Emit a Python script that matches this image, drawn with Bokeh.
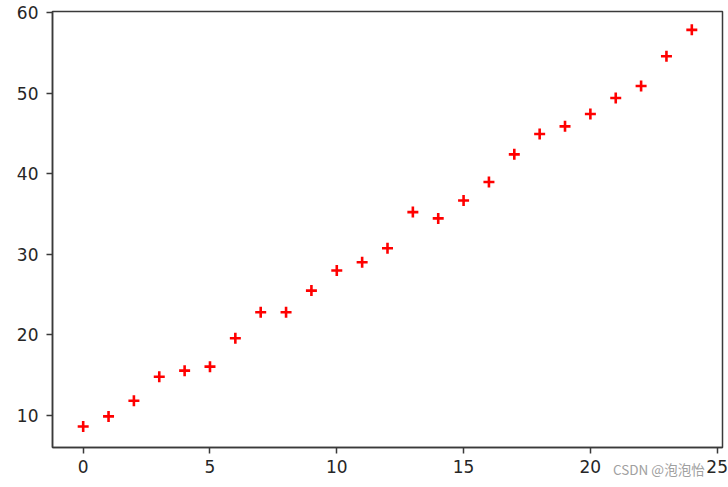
from bokeh.plotting import figure
from bokeh.models import Range1d, FixedTicker, Div
from bokeh.layouts import column
from bokeh.embed import file_html
from bokeh.resources import INLINE

x_vals = list(range(25))
y_vals = [8.63, 9.88, 11.83, 14.81, 15.56, 16.06, 19.58, 22.81, 22.81, 25.5,
          28.0, 29.03, 30.77, 35.25, 34.47, 36.7, 38.98, 42.42, 44.95, 45.9,
          47.43, 49.42, 50.91, 54.6, 57.88]
x_ticks = [0, 5, 10, 15, 20, 25]
y_ticks = [10, 20, 30, 40, 50, 60]
watermark = "CSDN @泡泡怡"

p = figure(width=728, height=487, output_backend="svg", toolbar_location=None,
           x_range=Range1d(-1.21, 25.21), y_range=Range1d(6.02, 60.16),
           min_border_left=52, min_border_right=6, min_border_top=11,
           min_border_bottom=40)
p.background_fill_color = "white"
p.border_fill_color = "white"
p.grid.visible = False
p.outline_line_color = "#3a3a3a"
p.outline_line_width = 1.5
p.outline_line_alpha = 1.0

for ax in (p.xaxis[0], p.yaxis[0]):
    ax.axis_line_color = "#3a3a3a"
    ax.axis_line_width = 1.5
    ax.major_tick_line_color = "#3a3a3a"
    ax.major_tick_line_width = 1.5
    ax.major_tick_out = 6
    ax.major_tick_in = 0
    ax.minor_tick_line_color = None
    ax.major_label_text_font = "DejaVu Sans"
    ax.major_label_text_font_size = "17px"
    ax.major_label_text_color = "#262626"

p.xaxis[0].ticker = FixedTicker(ticks=x_ticks)
p.yaxis[0].ticker = FixedTicker(ticks=y_ticks)
p.xaxis[0].major_label_standoff = 6
p.yaxis[0].major_label_standoff = 8

p.scatter(x_vals, y_vals, marker="cross", size=11, line_width=2.6,
          line_color="red")

wm = Div(text=watermark, width=100, height=18, margin=(-27, 0, 0, 613),
         styles={"font-family": "'Noto Sans CJK SC'", "font-size": "13.5px",
                 "color": "#a0a0a0", "line-height": "18px",
                 "white-space": "nowrap"})

layout = column(p, wm, spacing=0)

open("out.html", "w").write(file_html(layout, INLINE))
